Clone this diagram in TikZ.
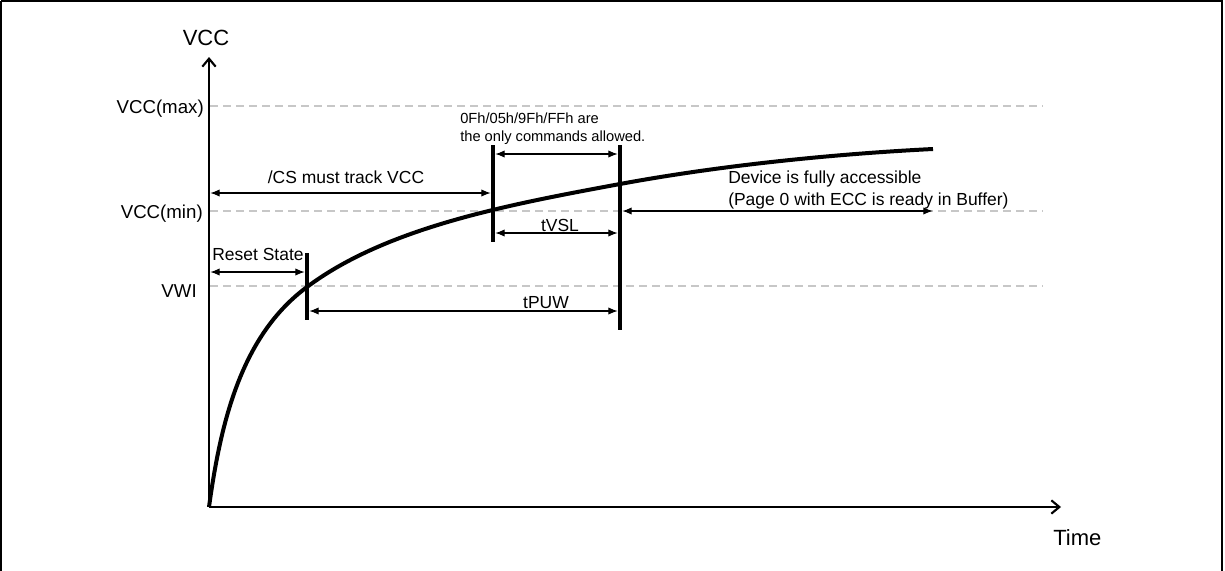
\documentclass[tikz,border=0pt]{standalone}
\usepackage{fontspec}
\setmainfont{Liberation Sans}
\usetikzlibrary{arrows.meta}
\begin{document}
\begin{tikzpicture}[x=0.75pt,y=-0.75pt,
  frame/.style={draw=black,line width=1.5pt},
  axis/.style={line width=2pt,-{Straight Barb[length=6pt,width=10pt,line width=1.6pt]}},
  level/.style={draw=black!22,line width=0.8pt,dash pattern=on 6pt off 3.75pt},
  curve/.style={line width=3pt},
  bar/.style={line width=2.3pt},
  dim/.style={line width=0.8pt,{Latex[length=7pt,width=5.5pt]}-{Latex[length=7pt,width=5.5pt]},shorten <=1pt,shorten >=1pt},
  big/.style={font=\fontsize{16.5pt}{19pt}\selectfont,inner sep=0pt},
  ylab/.style={font=\fontsize{14pt}{17pt}\selectfont,inner sep=0pt,anchor=base east},
  lab/.style={font=\fontsize{13.1pt}{16.5pt}\selectfont,inner sep=0pt},
  note/.style={font=\fontsize{11pt}{14.25pt}\selectfont,inner sep=0pt,align=left},
]
\useasboundingbox (0,0) rectangle (1225,571);
\draw[frame] (1,1) -- (1222,1) -- (1222,590) (1,590) -- (1,1);

% axes
\coordinate (O) at (209,507);
\coordinate (Ytop) at (209,57);
\coordinate (Xend) at (1061,507);
\draw[axis] (O) -- (Ytop);
\draw[axis] (O) -- (Xend);
\node[big,anchor=base] (vcc) at (206,45) {VCC};
\node[big,anchor=base west] (time) at (1053,545) {Time};

% levels
\coordinate (maxL) at (210,106); \coordinate (maxR) at (1043,106);
\coordinate (minL) at (210,211); \coordinate (minR) at (1043,211);
\coordinate (vwiL) at (210,286); \coordinate (vwiR) at (1043,286);
\draw[level] (maxL) -- (maxR);
\draw[level] (minL) -- (minR);
\draw[level] (vwiL) -- (vwiR);
\node[ylab] (lmax) at (204,113) {VCC(max)};
\node[ylab] (lmin) at (203,218) {VCC(min)};
\node[ylab] (lvwi) at (197,297) {VWI};

% curve
\coordinate (cA) at (307,287);
\coordinate (cB) at (620,184);
\coordinate (cE) at (933,149);
\draw[curve] (O) .. controls (221,420) and (242,335) .. (cA)
  .. controls (387,227) and (510,204.4) .. (cB)
  .. controls (720,165.5) and (833,154) .. (cE);

% bars
\coordinate (rT) at (307,253); \coordinate (rB) at (307,320);
\coordinate (aT) at (493,145); \coordinate (aB) at (493,242);
\coordinate (bT) at (620,145); \coordinate (bB) at (620,330);
\draw[bar] (rT) -- (rB);
\draw[bar] (aT) -- (aB);
\draw[bar] (bT) -- (bB);

% dimension arrows
\coordinate (csL) at (209,193); \coordinate (csR) at (492,193);
\draw[dim] (csL) -- (csR);
\node[lab,anchor=base] (cs) at (346,183) {/CS must track VCC};

\coordinate (cmL) at (494,154); \coordinate (cmR) at (619,154);
\draw[dim] (cmL) -- (cmR);
\node[note,anchor=base west] (cmd) at (460,123) {0Fh/05h/9Fh/FFh are};
\node[note,anchor=base west] (cmd2) at (460,141) {the only commands allowed.};

\coordinate (vsL) at (494,233); \coordinate (vsR) at (619,233);
\draw[dim] (vsL) -- (vsR);
\node[lab,anchor=base] (tvsl) at (560,231) {tVSL};

\coordinate (dvL) at (621,211); \coordinate (dvR) at (934,211);
\draw[dim] (dvL) -- (dvR);
\node[lab,anchor=base west] (dev1) at (728,183) {Device is fully accessible};
\node[lab,anchor=base west] (dev2) at (728,205) {(Page 0 with ECC is ready in Buffer)};

\coordinate (rsL) at (209,272); \coordinate (rsR) at (306,272);
\draw[dim] (rsL) -- (rsR);
\node[lab,anchor=base] (reset) at (258,260) {Reset State};

\coordinate (puL) at (308,311); \coordinate (puR) at (619,311);
\draw[dim] (puL) -- (puR);
\node[lab,anchor=base] (tpuw) at (546,308) {tPUW};
\end{tikzpicture}
\end{document}
